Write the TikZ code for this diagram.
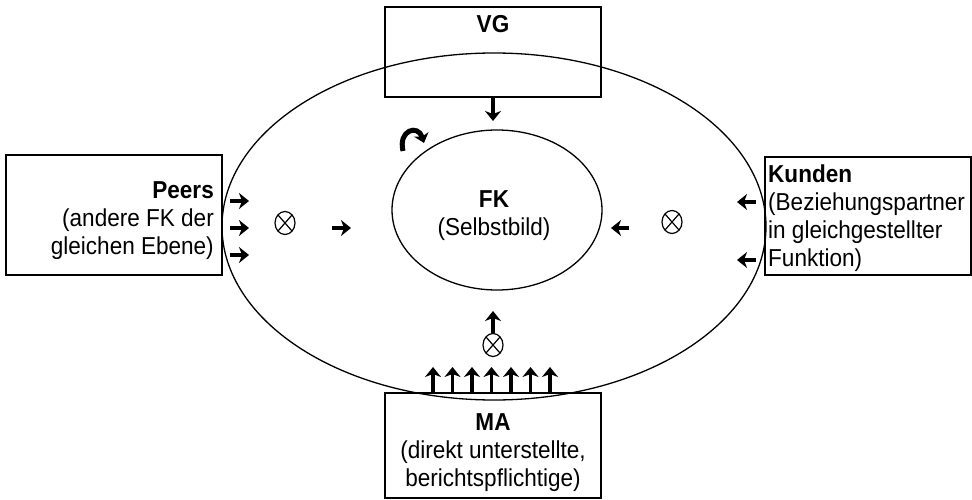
\documentclass[tikz,border=0pt]{standalone}
\usepackage{fontspec}
\setmainfont{Liberation Sans}[FakeStretch=0.92]
\usetikzlibrary{arrows.meta}
\begin{document}
\begin{tikzpicture}[x=1pt,y=-1pt,
  txt/.style={font=\fontsize{24.5}{28}\selectfont, inner sep=0pt},
  box/.style={draw, line width=1.1pt},
  ring/.style={draw, line width=1.3pt},
  bigarrow/.style={line width=3.8pt, -{Stealth[length=10pt,width=16pt,inset=3pt]}},
  otimes/.pic={\draw[line width=1.2pt] (0,0) ellipse [x radius=10pt, y radius=11.5pt];
               \draw[line width=1.2pt] (-7pt,-8pt) -- (7pt,8pt);
               \draw[line width=1.2pt] (-7pt,8pt) -- (7pt,-8pt);}
]
\useasboundingbox (0,0) rectangle (972,500);
\fill[white] (0,0) rectangle (972,500);

% boxes
\draw[box] (385,7) rectangle (601,97);
\draw[box] (6,155) rectangle (222,275);
\draw[box] (765,157) rectangle (971,275);
\draw[box] (385,393) rectangle (601,498);

% ellipses
\draw[ring] (494,226.5) ellipse [x radius=272pt, y radius=173.5pt];
\draw[ring] (497,210) ellipse [x radius=105pt, y radius=80pt];

% texts
\node[txt] (vg) at (493,24) {\textbf{VG}};
\node[txt, align=right, anchor=east] (peers) at (214,221) {\textbf{Peers}\\(andere FK der\\gleichen Ebene)};
\node[txt, align=left, anchor=west] (kunden) at (768,218) {\textbf{Kunden}\\(Beziehungspartner\\in gleichgestellter\\Funktion)};
\node[txt, align=center] (ma) at (493,453) {\textbf{MA}\\(direkt unterstellte,\\berichtspflichtige)};
\node[txt, align=center] (fk) at (494,216) {\textbf{FK}\\(Selbstbild)};

% otimes
\pic (ol) at (285,223) {otimes};
\pic (or) at (672,222) {otimes};
\pic (ob) at (493,345) {otimes};

% arrows left
\foreach \y in {201,228,255} \draw[bigarrow] (230,\y) -- (249,\y);
\draw[bigarrow] (332,228) -- (351,228);
% arrows right
\foreach \y in {202,260} \draw[bigarrow] (756,\y) -- (737,\y);
\draw[bigarrow] (629,228) -- (611,228);
% VG arrow
\draw[bigarrow] (493,98) -- (493,121);
% bottom arrows
\foreach \x in {433,452.5,472,491.5,511,530.5,550} \draw[bigarrow] (\x,393) -- (\x,367);
\draw[bigarrow] (493,333) -- (493,311);
% curved arrow
\draw[line width=5pt, -{Stealth[length=9pt,width=15pt,inset=2.5pt]}] (403,151) .. controls (398,130) and (418,124) .. (424,143);
\end{tikzpicture}
\end{document}
